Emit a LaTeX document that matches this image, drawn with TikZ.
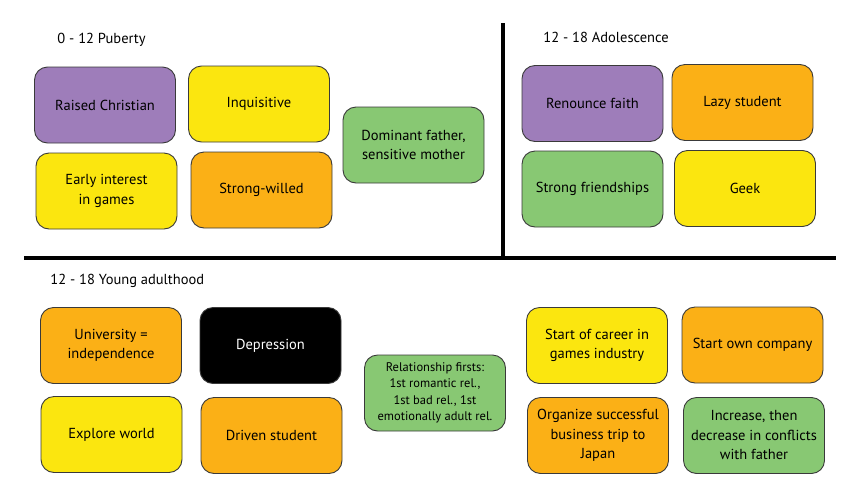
\documentclass[tikz,border=0pt]{standalone}
\usepackage{fontspec}
\setmainfont{PT Sans}
\definecolor{lilac}{HTML}{9E7DBA}
\definecolor{lemon}{HTML}{FBE60F}
\definecolor{amber}{HTML}{FBB016}
\definecolor{leaf}{HTML}{88C873}
\definecolor{rim}{HTML}{3A3A3A}
\begin{document}
\begin{tikzpicture}
  [x=1pt,y=-1pt,
   every node/.style={rectangle,rounded corners=13pt,draw=rim,line width=0.9pt,
     minimum width=141pt,minimum height=76pt,align=center,inner sep=2pt,
     font=\fontsize{14.5}{19.5}\selectfont},
   lilacbox/.style={fill=lilac},
   lemonbox/.style={fill=lemon},
   amberbox/.style={fill=amber},
   leafbox/.style={fill=leaf},
   darkbox/.style={fill=black,text=white},
   phase/.style={draw=none,fill=none,minimum width=0pt,minimum height=0pt,
     rounded corners=0pt,anchor=west,inner sep=0pt,font=\fontsize{14.5}{17}\selectfont}]
  \useasboundingbox (0,0) rectangle (856,501);

  % separators
  \draw[line width=4pt] (24,258) -- (836,258);
  \draw[line width=4pt] (503,23) -- (503,258);

  % 0 - 12
  \node (t1)[phase] at (57,40) {0 - 12 Puberty};
  \node (p1)[lilacbox] at (105,105) {Raised Christian};
  \node (p2)[lemonbox] at (259,104) {Inquisitive};
  \node (p3)[lemonbox] at (106.5,191) {Early interest\\in games};
  \node (p4)[amberbox] at (261.5,190) {Strong-willed};
  \node (p5)[leafbox] at (413.5,145) {Dominant father,\\sensitive mother};

  % 12 - 18
  \node (t2)[phase] at (543,37) {12 - 18 Adolescence};
  \node (a1)[lilacbox] at (592.5,103.5) {Renounce faith};
  \node (a2)[amberbox] at (742.5,102.5) {Lazy student};
  \node (a3)[leafbox] at (592.5,189) {Strong friendships};
  \node (a4)[lemonbox] at (745,188.5) {Geek};

  % young adulthood
  \node (t3)[phase] at (50,281) {12 - 18 Young adulthood};
  \node (y1)[amberbox] at (111,345.5) {University =\\independence};
  \node (y2)[darkbox] at (270.5,345.5) {Depression};
  \node (y3)[lemonbox] at (111.5,434.5) {Explore world};
  \node (y4)[amberbox] at (271.5,435.5) {Driven student};
  \node (y5)[leafbox,font=\fontsize{12.5}{16.5}\selectfont] at (435,393)
    {Relationship firsts:\\1st romantic rel.,\\1st bad rel., 1st\\emotionally adult rel.};
  \node (y6)[lemonbox] at (597,345.5) {Start of career in\\games industry};
  \node (y7)[amberbox] at (752.5,345) {Start own company};
  \node (y8)[amberbox] at (598,435.5) {Organize successful\\business trip to\\Japan};
  \node (y9)[leafbox] at (754,435.5) {Increase, then\\decrease in conflicts\\with father};

\end{tikzpicture}
\end{document}
